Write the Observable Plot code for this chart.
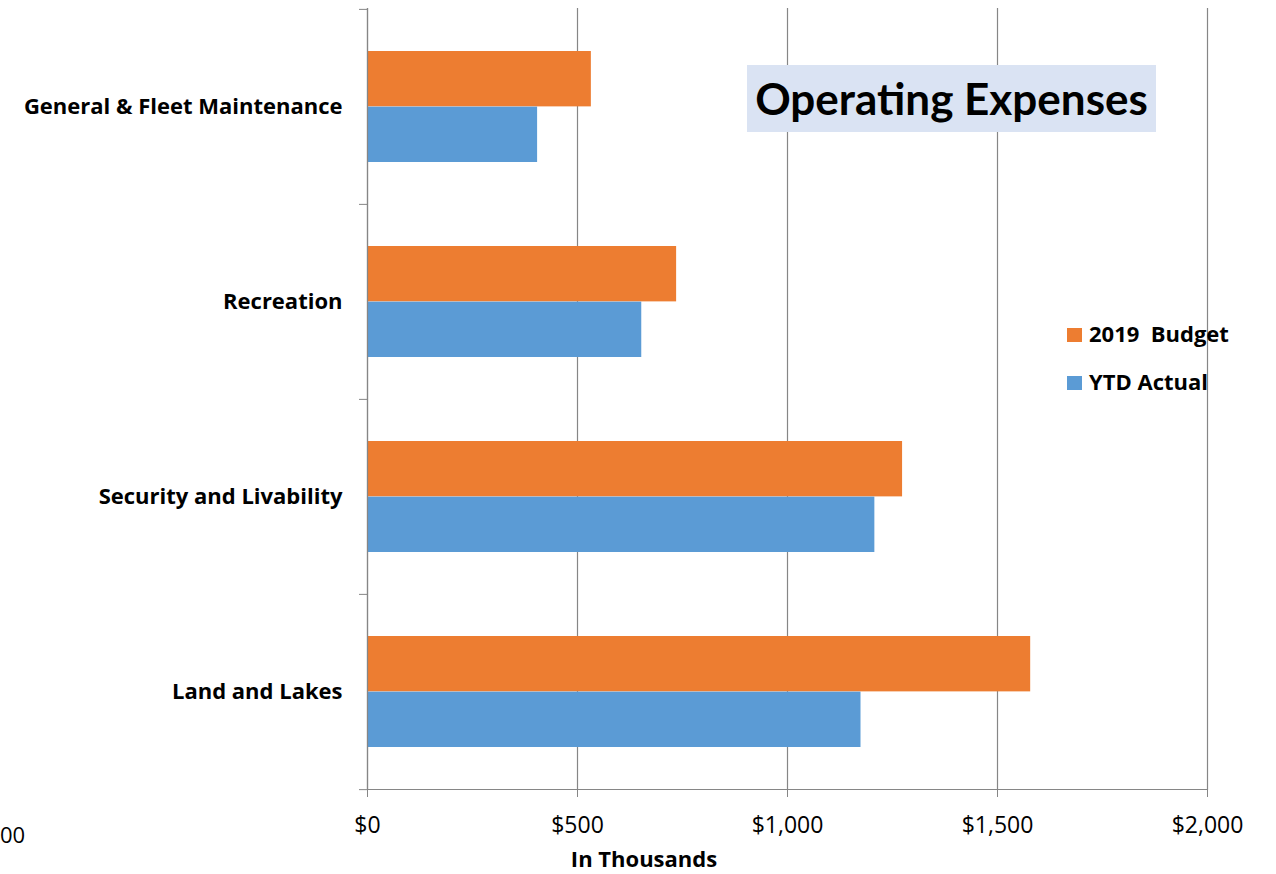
<!DOCTYPE html>
<html>
<head>
<meta charset="utf-8">
<script src="https://cdn.jsdelivr.net/npm/d3@7"></script>
<script src="https://cdn.jsdelivr.net/npm/@observablehq/plot@0.6"></script>
<style>
  html, body { margin: 0; padding: 0; background: #fff; }
  #wrap { position: relative; width: 1276px; height: 874px; overflow: hidden; font-family: "Open Sans", Lato, sans-serif; }
  #title { position: absolute; left: 747px; top: 65px; width: 409px; height: 67px; background: #dae3f3;
           font-family: Lato, sans-serif; font-weight: bold; font-size: 44px; line-height: 67px; text-align: center; color: #000; }
  .leg { position: absolute; left: 1067px; font-weight: bold; font-size: 22px; color: #000; white-space: pre; line-height: 26px; }
  .leg span { display: inline-block; width: 15px; height: 14px; margin-right: 7px; vertical-align: 0px; }
  #xlab { position: absolute; left: 544px; width: 200px; text-align: center; top: 843px; font-weight: bold; font-size: 22px; }
  #frag { position: absolute; left: 0px; top: 819px; font-size: 22px; }
</style>
</head>
<body>
<div id="wrap"></div>
<script>
const categories = ["General & Fleet Maintenance", "Recreation", "Security and Livability", "Land and Lakes"];
const seriesNames = ["2019  Budget", "YTD Actual"];
const budget = [533, 736, 1274, 1579];
const actual = [405, 653, 1208, 1175];
const xTicks = [0, 500, 1000, 1500, 2000];
const colors = ["#ED7D31", "#5B9BD5"];

const W = 1276, H = 874;
const mTop = 8, mBottom = 85, mLeft = 367, mRight = 69;
const bw = (H - mTop - mBottom) / categories.length;
const gap = 42;
const barH = (bw - 2 * gap) / 2;

const budgetRows = categories.map((c, i) => ({category: c, series: seriesNames[0], value: budget[i]}));
const actualRows = categories.map((c, i) => ({category: c, series: seriesNames[1], value: actual[i]}));

const grey = "#868686";

const chart = Plot.plot({
  width: W, height: H,
  marginTop: mTop, marginBottom: mBottom, marginLeft: mLeft, marginRight: mRight,
  style: {fontFamily: "'Open Sans', Lato, sans-serif", color: "#000", background: "#fff"},
  x: {domain: [0, 2000], axis: null},
  y: {domain: categories, padding: 0, axis: null},
  color: {domain: seriesNames, range: colors},
  marks: [
    Plot.gridX(xTicks, {stroke: grey, strokeOpacity: 1, strokeWidth: 1.2}),
    Plot.barX(budgetRows, {x: "value", y: "category", fill: "series", insetTop: gap, insetBottom: gap + barH}),
    Plot.barX(actualRows, {x: "value", y: "category", fill: "series", insetTop: gap + barH, insetBottom: gap}),
    Plot.ruleX([0], {stroke: grey, strokeWidth: 1.2}),
    Plot.frame({anchor: "bottom", stroke: grey, strokeWidth: 1.2}),
    Plot.axisX({ticks: xTicks, tickSize: 8, tickPadding: 19, fontSize: 23, label: null,
      stroke: grey, fill: "#000", tickFormat: d => "$" + d3.format(",")(d)}),
    Plot.axisY({tickSize: 0, tickPadding: 25, fontSize: 22, fontWeight: "bold", label: null, fill: "#000"}),
    Plot.axisY({tickSize: 8, stroke: grey, dy: -bw / 2, tickFormat: () => "", label: null}),
    Plot.axisY({ticks: [categories[categories.length - 1]], tickSize: 8, stroke: grey, dy: bw / 2, tickFormat: () => "", label: null})
  ]
});

const wrap = document.getElementById("wrap");
wrap.appendChild(chart);

const title = document.createElement("div");
title.id = "title";
title.textContent = "Operating Expenses";
wrap.appendChild(title);

const legTops = [320, 368];
seriesNames.forEach((s, i) => {
  const d = document.createElement("div");
  d.className = "leg";
  d.style.top = legTops[i] + "px";
  const sw = document.createElement("span");
  sw.style.background = colors[i];
  d.appendChild(sw);
  d.appendChild(document.createTextNode(s));
  wrap.appendChild(d);
});

const xl = document.createElement("div");
xl.id = "xlab";
xl.textContent = "In Thousands";
wrap.appendChild(xl);

const frag = document.createElement("div");
frag.id = "frag";
frag.textContent = "00";
wrap.appendChild(frag);
</script>
</body>
</html>
